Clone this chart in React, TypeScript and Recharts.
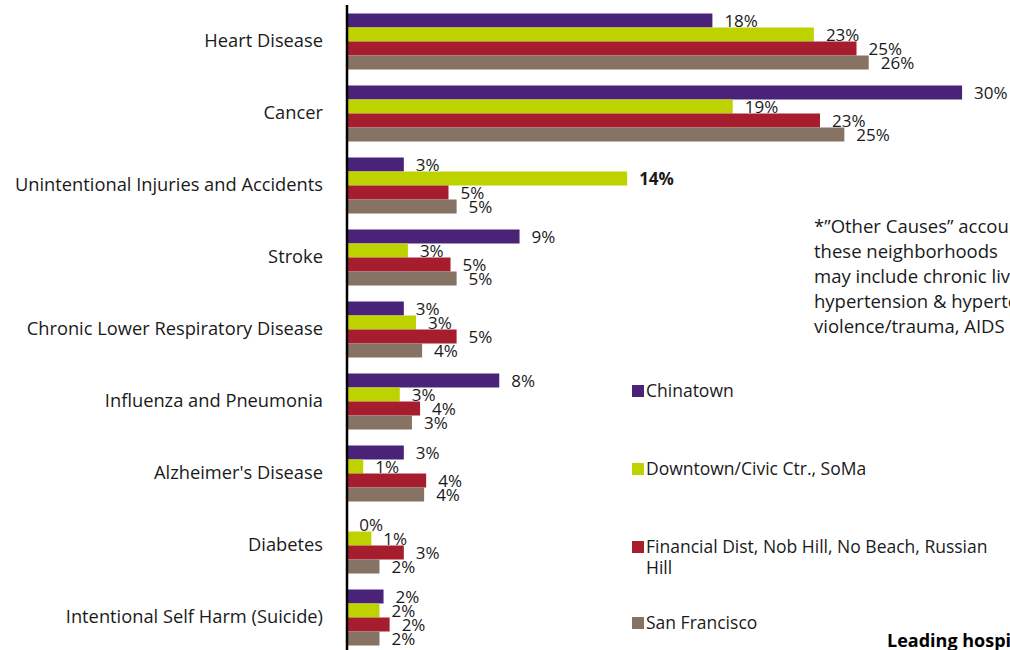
import React from 'react';
import { BarChart, Bar, XAxis, YAxis, LabelList, Legend } from 'recharts';

const categories = [
  'Heart Disease',
  'Cancer',
  'Unintentional Injuries and Accidents',
  'Stroke',
  'Chronic Lower Respiratory Disease',
  'Influenza and Pneumonia',
  "Alzheimer's Disease",
  'Diabetes',
  'Intentional Self Harm (Suicide)',
];

// percent of deaths (labels are rounded)
const chinatown = [18.0, 30.3, 2.8, 8.5, 2.8, 7.5, 2.8, 0.01, 1.8];
const downtown = [23.0, 19.0, 13.8, 3.0, 3.4, 2.6, 0.8, 1.2, 1.6];
const financial = [25.1, 23.3, 5.0, 5.1, 5.4, 3.6, 3.9, 2.8, 2.1];
const sanFrancisco = [25.7, 24.5, 5.4, 5.4, 3.7, 3.2, 3.8, 1.6, 1.6];

const seriesNames = [
  'Chinatown',
  'Downtown/Civic Ctr., SoMa',
  'Financial Dist, Nob Hill, No Beach, Russian Hill',
  'San Francisco',
];
const seriesKeys = ['chinatown', 'downtown', 'financial', 'sanFrancisco'];
const COLORS = ['#4a2277', '#bed200', '#a61e2e', '#877363'];

const noteLines = [
  '*\u201DOther Causes\u201D accounts',
  'these neighborhoods',
  'may include chronic liver',
  'hypertension & hypertensive',
  'violence/trauma, AIDS',
];

const data = categories.map((name, i) => ({
  name,
  chinatown: chinatown[i],
  downtown: downtown[i],
  financial: financial[i],
  sanFrancisco: sanFrancisco[i],
}));

const FONT = '"Open Sans", sans-serif';

const makeLabel = (key: string) => (props: any) => {
  const { x, y, width, height, value, index } = props;
  const bold = key === 'downtown' && index === 2;
  return (
    <text
      x={Number(x) + Number(width) + 12}
      y={Number(y) + Number(height) / 2}
      dominantBaseline="central"
      fontSize={17}
      fontFamily={FONT}
      fontWeight={bold ? 700 : 400}
      fill="#1a1a1a"
    >
      {`${Math.round(Number(value))}%`}
    </text>
  );
};

const renderLegend = () => (
  <div style={{ fontFamily: FONT, fontSize: 17.5, color: '#1a1a1a' }}>
    {seriesNames.map((name, i) => (
      <div key={name} style={{ display: 'flex', alignItems: 'flex-start', height: i === 2 ? 76 : 78 }}>
        <span
          style={{
            display: 'inline-block',
            width: 12,
            height: 12,
            background: COLORS[i],
            marginTop: 5,
            marginRight: 2,
            flex: 'none',
          }}
        />
        <span style={{ lineHeight: '21px', width: 350 }}>{name}</span>
      </div>
    ))}
  </div>
);

export default function App() {
  return (
    <div style={{ position: 'absolute', left: 0, top: 0, width: 1010, height: 650, overflow: 'hidden', background: '#fff' }}>
      <BarChart
        width={1010}
        height={660}
        data={data}
        layout="vertical"
        margin={{ top: 5, right: 13.4, bottom: 7, left: 0 }}
        barCategoryGap={8.5}
        barGap={0}
      >
        <XAxis type="number" domain={[0, 32]} hide />
        <YAxis
          type="category"
          dataKey="name"
          width={347}
          axisLine={{ stroke: '#000', strokeWidth: 2.5 }}
          tickLine={false}
          tickSize={0}
          tickMargin={24}
          interval={0}
          tick={{ fill: '#1a1a1a', fontSize: 18.3, fontFamily: FONT }}
        />
        {seriesKeys.map((key, i) => (
          <Bar key={key} dataKey={key} name={seriesNames[i]} fill={COLORS[i]} isAnimationActive={false}>
            <LabelList dataKey={key} content={makeLabel(key)} />
          </Bar>
        ))}
        <Legend
          layout="vertical"
          align="center"
          verticalAlign="middle"
          content={renderLegend}
          wrapperStyle={{ position: 'absolute', left: 632, top: 380, width: 378 }}
        />
      </BarChart>
      <div
        style={{
          position: 'absolute',
          left: 814,
          top: 213,
          fontFamily: FONT,
          fontSize: 18.5,
          lineHeight: '25px',
          color: '#1a1a1a',
          whiteSpace: 'nowrap',
        }}
      >
        {noteLines.map((l) => (
          <div key={l}>{l}</div>
        ))}
      </div>
      <div
        style={{
          position: 'absolute',
          left: 887,
          top: 628,
          fontFamily: FONT,
          fontSize: 18,
          fontWeight: 700,
          color: '#000',
          whiteSpace: 'nowrap',
        }}
      >
        Leading hospitalizations
      </div>
    </div>
  );
}
